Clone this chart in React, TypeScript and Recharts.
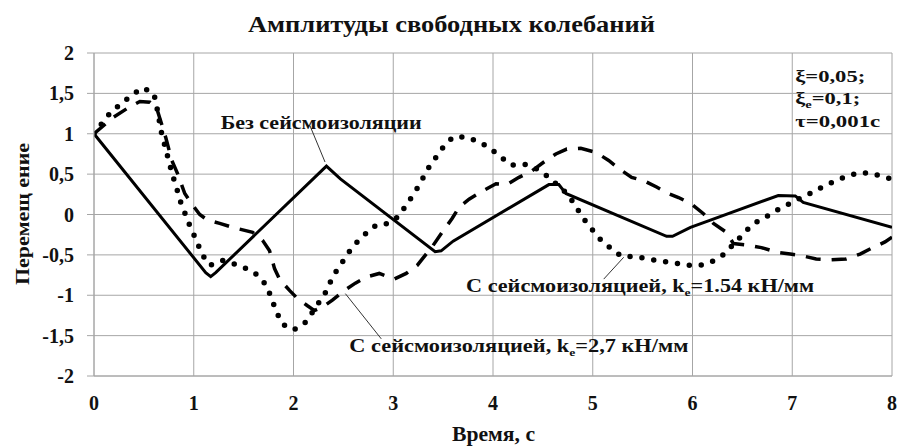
import {
  LineChart, Line, XAxis, YAxis, CartesianGrid, ReferenceLine, ReferenceDot
} from "recharts";

const X_TICKS = [0, 1, 2, 3, 4, 5, 6, 7, 8];
const Y_TICKS = [-2, -1.5, -1, -0.5, 0, 0.5, 1, 1.5, 2];

// Без сейсмоизоляции
const NO_ISO_T = [0, 1.12, 1.17, 1.22, 2.33, 2.47, 3.42, 3.48, 3.6, 4.56, 4.66, 4.73, 5.74, 5.8, 5.98, 6.18, 6.86, 7.03, 7.11, 8];
const NO_ISO_V = [1, -0.72, -0.77, -0.72, 0.6, 0.44, -0.46, -0.45, -0.33, 0.37, 0.37, 0.26, -0.27, -0.27, -0.16, -0.07, 0.235, 0.23, 0.15, -0.16];

// С сейсмоизоляцией, ke=2,7 кН/мм
const ISO27_T = [0, 0.19, 0.34, 0.46, 0.56, 0.63, 0.72, 0.78, 0.84, 0.91, 0.98, 1.06, 1.14, 1.26, 1.39, 1.59, 1.69, 1.76, 1.81, 1.86, 1.96, 2.04, 2.14, 2.21, 2.3, 2.39, 2.51, 2.62, 2.74, 2.86, 3.01, 3.13, 3.24, 3.33, 3.39, 3.49, 3.59, 3.66, 3.76, 3.88, 4.03, 4.14, 4.26, 4.39, 4.51, 4.63, 4.74, 4.88, 5.03, 5.16, 5.26, 5.39, 5.51, 5.64, 5.76, 5.86, 5.99, 6.11, 6.21, 6.34, 6.41, 6.56, 6.69, 6.86, 6.98, 7.13, 7.24, 7.39, 7.54, 7.68, 7.79, 7.93, 8];
const ISO27_V = [1, 1.2, 1.32, 1.4, 1.39, 1.31, 0.95, 0.67, 0.5, 0.26, 0.13, 0.0, -0.07, -0.11, -0.16, -0.22, -0.32, -0.45, -0.67, -0.8, -0.94, -1.04, -1.13, -1.19, -1.14, -1.06, -0.94, -0.85, -0.77, -0.73, -0.8, -0.73, -0.63, -0.49, -0.4, -0.22, -0.05, 0.09, 0.19, 0.28, 0.38, 0.37, 0.46, 0.54, 0.65, 0.75, 0.81, 0.82, 0.77, 0.67, 0.57, 0.46, 0.42, 0.34, 0.26, 0.21, 0.13, 0.01, -0.11, -0.22, -0.36, -0.38, -0.41, -0.47, -0.49, -0.52, -0.55, -0.56, -0.55, -0.49, -0.42, -0.34, -0.28];

// С сейсмоизоляцией, ke=1.54 кН/мм
const ISO154_T = [0, 0.08, 0.17, 0.28, 0.39, 0.49, 0.6, 0.63, 0.68, 0.72, 0.75, 0.79, 0.83, 0.87, 0.92, 0.97, 1.03, 1.08, 1.16, 1.29, 1.4, 1.53, 1.64, 1.73, 1.78, 1.83, 1.89, 2.0, 2.11, 2.19, 2.34, 2.39, 2.47, 2.54, 2.63, 2.73, 2.83, 2.95, 3.06, 3.13, 3.21, 3.28, 3.35, 3.43, 3.51, 3.6, 3.73, 3.86, 3.97, 4.08, 4.18, 4.32, 4.43, 4.55, 4.75, 4.83, 4.9, 4.99, 5.07, 5.18, 5.29, 5.42, 5.55, 5.69, 5.82, 5.94, 6.08, 6.2, 6.32, 6.41, 6.51, 6.6, 6.71, 6.84, 6.95, 7.06, 7.18, 7.3, 7.42, 7.54, 7.67, 7.8, 7.93, 8];
const ISO154_V = [1, 1.13, 1.27, 1.38, 1.49, 1.57, 1.5, 1.33, 0.99, 0.81, 0.66, 0.48, 0.32, 0.15, -0.01, -0.17, -0.33, -0.49, -0.63, -0.57, -0.61, -0.67, -0.75, -0.88, -1.04, -1.21, -1.36, -1.43, -1.35, -1.21, -0.93, -0.77, -0.63, -0.49, -0.35, -0.23, -0.13, -0.11, -0.02, 0.12, 0.26, 0.41, 0.57, 0.71, 0.85, 0.96, 0.96, 0.9, 0.82, 0.71, 0.61, 0.62, 0.57, 0.47, 0.25, 0.1, -0.04, -0.18, -0.3, -0.42, -0.52, -0.52, -0.55, -0.58, -0.6, -0.63, -0.63, -0.58, -0.49, -0.37, -0.24, -0.12, -0.05, 0.05, 0.12, 0.19, 0.26, 0.34, 0.41, 0.47, 0.52, 0.51, 0.46, 0.44];

const toPoints = (ts: number[], vs: number[]) => ts.map((t, i) => ({ t, v: vs[i] }));

const noIso = toPoints(NO_ISO_T, NO_ISO_V);
const iso27 = toPoints(ISO27_T, ISO27_V);
const iso154 = toPoints(ISO154_T, ISO154_V);

const FONT = "'Liberation Serif', 'Times New Roman', 'DejaVu Serif', serif";
const GRID = "#a6a6a6";
const INK = "#111";

const fmt = (v: number) => String(v).replace(".", ",");

// label drawn at a data point (baseline-left), stretched to the width seen in the picture
const textLabel = (content: React.ReactNode, size: number, len: number) => (props: any) => {
  const vb = props.viewBox || {};
  return (
    <text x={vb.x} y={vb.y} fontFamily={FONT} fontWeight="bold" fontSize={size} fill={INK}
      textLength={len} lengthAdjust="spacingAndGlyphs">
      {content}
    </text>
  );
};

// text with a subscript in the middle
const withSub = (before: string, s: string, after: string) => (
  <>
    <tspan>{before}</tspan>
    <tspan dy={4} fontSize={11}>{s}</tspan>
    <tspan dy={-4}>{after}</tspan>
  </>
);

export default function App() {
  const tickStyle = { fill: INK, fontFamily: FONT, fontWeight: "bold", fontSize: 20 };
  return (
    <div style={{ position: "absolute", left: 0, top: 0, width: 901, height: 446, background: "#fff", fontFamily: FONT }}>
      <LineChart width={901} height={446} data={noIso} margin={{ top: 53, right: 9, bottom: 0, left: 0 }}>
        <CartesianGrid stroke={GRID} strokeWidth={1} />
        <XAxis
          type="number" dataKey="t" domain={[0, 8]} ticks={X_TICKS} height={70}
          stroke={GRID} tickLine={false} tickSize={0} tickMargin={20}
          tick={tickStyle}
          allowDataOverflow
        />
        <YAxis
          type="number" domain={[-2, 2]} ticks={Y_TICKS} width={94}
          stroke={GRID} tickSize={7} tickMargin={13} tickFormatter={fmt}
          tick={tickStyle}
          allowDataOverflow
        />
        <Line data={noIso} dataKey="v" type="linear" stroke="#000" strokeWidth={3} dot={false} isAnimationActive={false} />
        <Line data={iso27} dataKey="v" type="linear" stroke="#000" strokeWidth={3.5} strokeDasharray="15 11" dot={false} isAnimationActive={false} />
        <Line data={iso154} dataKey="v" type="linear" stroke="#000" strokeWidth={5.5} strokeDasharray="0 12" strokeLinecap="round" dot={false} isAnimationActive={false} />

        <ReferenceLine segment={[{ x: 2.165, y: 1.1 }, { x: 2.316, y: 0.65 }]} stroke="#333" strokeWidth={1} />
        <ReferenceLine segment={[{ x: 5.31, y: -0.53 }, { x: 5.11, y: -0.8 }]} stroke="#333" strokeWidth={1} />
        <ReferenceLine segment={[{ x: 2.52, y: -0.98 }, { x: 2.88, y: -1.54 }]} stroke="#333" strokeWidth={1} />

        <ReferenceDot x={1.28} y={1.05} r={1} fill="none" stroke="none"
          label={textLabel("Без сейсмоизоляции", 18, 201)} />
        <ReferenceDot x={3.74} y={-0.97} r={1} fill="none" stroke="none"
          label={textLabel(withSub("С сейсмоизоляцией, k", "e", "=1.54 кН/мм"), 18, 348)} />
        <ReferenceDot x={2.57} y={-1.72} r={1} fill="none" stroke="none"
          label={textLabel(withSub("С сейсмоизоляцией, k", "e", "=2,7 кН/мм"), 18, 339)} />
        <ReferenceDot x={7.04} y={1.63} r={1} fill="none" stroke="none" label={textLabel("ξ=0,05;", 17, 70)} />
        <ReferenceDot x={7.04} y={1.35} r={1} fill="none" stroke="none" label={textLabel(withSub("ξ", "e", "=0,1;"), 17, 65)} />
        <ReferenceDot x={7.04} y={1.07} r={1} fill="none" stroke="none" label={textLabel("τ=0,001с", 17, 85)} />
      </LineChart>

      <svg width={901} height={446} style={{ position: "absolute", left: 0, top: 0, pointerEvents: "none" }}
        fontFamily={FONT} fontWeight="bold" fill={INK}>
        <text x={248} y={32} fontSize={24} textLength={407} lengthAdjust="spacingAndGlyphs">
          Амплитуды свободных колебаний
        </text>
        <text x={452} y={441} fontSize={21} textLength={83} lengthAdjust="spacingAndGlyphs">
          Время, с
        </text>
        <text x={0} y={0} transform="translate(29 285) rotate(-90)" fontSize={19} textLength={142} lengthAdjust="spacingAndGlyphs">
          Перемещ ение
        </text>
      </svg>
    </div>
  );
}
